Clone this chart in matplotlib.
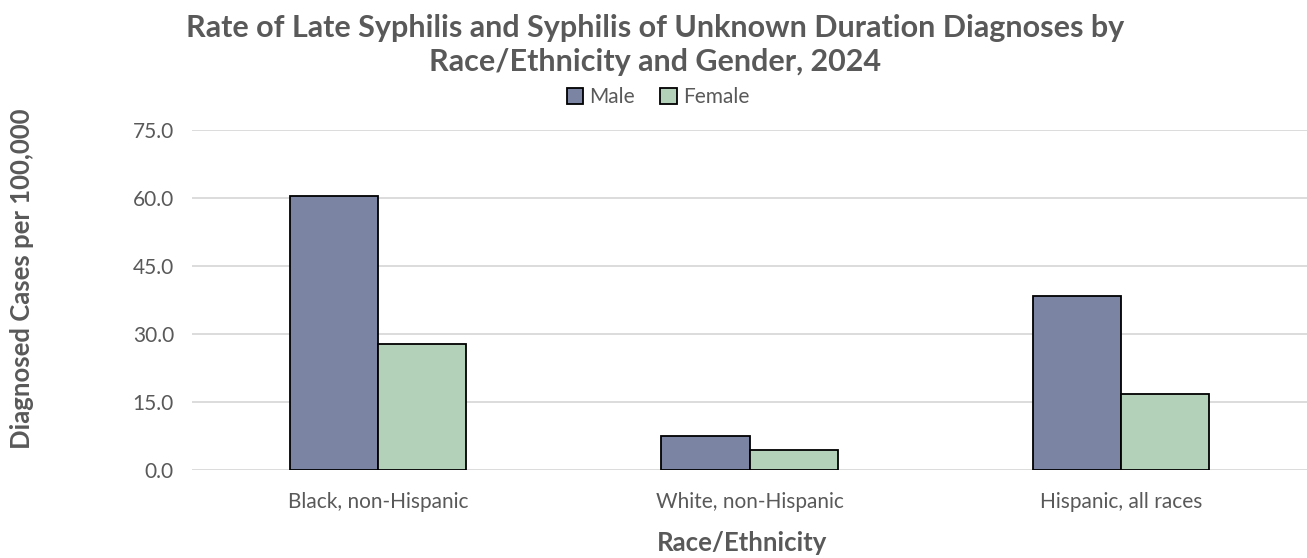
import numpy as np
import matplotlib
matplotlib.use("Agg")
import matplotlib.pyplot as plt

plt.rcParams['font.family'] = ['Lato', 'DejaVu Sans']

# data
categories = ['Black, non-Hispanic', 'White, non-Hispanic', 'Hispanic, all races']
male = [60.5, 7.5, 38.4]
female = [27.7, 4.5, 16.8]
yticks = [0, 15, 30, 45, 60, 75]

grey = '#595959'
male_col = '#7B84A3'
female_col = '#B3D1B9'

fig = plt.figure(figsize=(13.07, 5.58), dpi=100)
ax = fig.add_axes([192/1307, 1-470/558, 1-192/1307, 340/558])

x = np.arange(len(categories))
w = 0.237
ax.bar(x - w/2, male, w, color=male_col, edgecolor='black', linewidth=1.3, label='Male', zorder=3)
ax.bar(x + w/2, female, w, color=female_col, edgecolor='black', linewidth=1.3, label='Female', zorder=3)

ax.set_xlim(-0.5, 2.5)
ax.set_ylim(0, 75)
ax.set_yticks(yticks)
ax.set_yticklabels(['%.1f' % v for v in yticks])
ax.set_xticks(x)
ax.set_xticklabels(categories)
ax.tick_params(axis='both', length=0, labelsize=15, colors=grey)
ax.tick_params(axis='y', pad=13)
ax.tick_params(axis='x', pad=16)
ax.grid(axis='y', color='#D9D9D9', linewidth=1.3, zorder=0)
for s in ax.spines.values():
    s.set_visible(False)

fig.text(742/1307, 1-543/558, 'Race/Ethnicity', fontsize=18.5, fontweight='bold', color=grey,
         ha='center', va='center')
fig.text(22/1307, 1-279/558, 'Diagnosed Cases per 100,000', rotation=90, fontsize=18.5,
         fontweight='bold', color=grey, ha='center', va='center')

fig.text(655/1307, 1-45/558, 'Rate of Late Syphilis and Syphilis of Unknown Duration Diagnoses by\nRace/Ethnicity and Gender, 2024',
         fontsize=22, fontweight='bold', color=grey, ha='center', va='center', linespacing=1.28)

leg = ax.legend(loc='center', bbox_to_anchor=(658/1307, 1-97/558), bbox_transform=fig.transFigure,
                ncol=2, frameon=False, fontsize=15, handlelength=0.8, handleheight=0.8,
                handletextpad=0.3, columnspacing=1.2, borderpad=0)
for t in leg.get_texts():
    t.set_color(grey)

fig.savefig('out.png', dpi=100)
